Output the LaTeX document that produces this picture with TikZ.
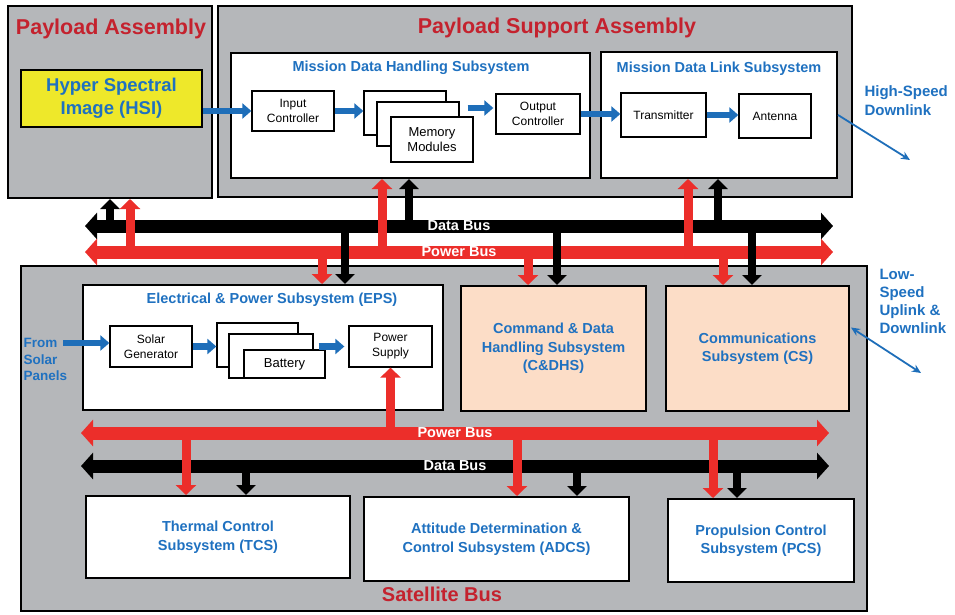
\documentclass[tikz,border=0pt]{standalone}
\usepackage{fontspec}
\setmainfont{Liberation Sans}
\usetikzlibrary{arrows.meta,calc}

\definecolor{grisboite}{RGB}{181,183,186}
\definecolor{rougetitre}{RGB}{196,34,46}
\definecolor{rougebus}{RGB}{236,46,42}
\definecolor{bleutexte}{RGB}{31,113,192}
\definecolor{bleuflux}{RGB}{30,110,185}
\definecolor{jaune}{RGB}{238,232,42}
\definecolor{peche}{RGB}{252,221,199}

\begin{document}
\begin{tikzpicture}[x=1pt, y=-1pt,
  cadre/.style={draw, line width=2pt, fill=grisboite},
  soussys/.style={draw, line width=2pt, fill=white},
  bloc/.style={draw, line width=1.3pt, fill=white, align=center, font=\fontsize{12}{15}\selectfont},
  titre/.style={text=rougetitre, font=\bfseries\fontsize{21.5}{24}\selectfont},
  soustitre/.style={text=bleutexte, font=\bfseries\fontsize{14.5}{17}\selectfont},
  nom/.style={text=bleutexte, align=center, font=\bfseries\fontsize{14.5}{18.5}\selectfont},
  legende/.style={text=bleutexte, align=left, anchor=west, font=\bfseries\fontsize{15}{19}\selectfont},
  powerbus/.style={draw=rougebus, line width=13pt, {Triangle[length=12pt,width=26pt]}-{Triangle[length=12pt,width=26pt]}},
  databus/.style={draw=black, line width=13pt, {Triangle[length=12pt,width=26pt]}-{Triangle[length=12pt,width=26pt]}},
  pfleche/.style={draw=rougebus, line width=9pt, -{Triangle[length=10pt,width=20pt]}},
  dfleche/.style={draw=black, line width=8pt, -{Triangle[length=10pt,width=19pt]}},
  flux/.style={draw=bleuflux, line width=6.5pt, -{Triangle[length=9pt,width=15pt]}},
  lien/.style={draw=bleuflux, line width=1.8pt, >={Stealth[length=9pt,width=8pt]}, ->},
  buslabel/.style={text=white, font=\bfseries\fontsize{14.5}{16}\selectfont}]
  \useasboundingbox (0,0) rectangle (955,614);

  % Charge utile
  \node[cadre, minimum width=204, minimum height=192] (pa) at (110,102) {};
  \node[titre] (patitre) at (111,29) {Payload Assembly};
  \node[draw, line width=1.5pt, fill=jaune, minimum width=181, minimum height=57, text=bleutexte,
        align=center, font=\bfseries\fontsize{18.5}{23}\selectfont] (hsi) at (111.5,98.5) {Hyper Spectral\\Image (HSI)};

  % Support de la charge utile
  \node[cadre, minimum width=634, minimum height=191] (psa) at (535,101.5) {};
  \node[titre] (psatitre) at (557,28) {Payload Support Assembly};
  \node[soussys, minimum width=359, minimum height=125] (mdhs) at (410.5,115.5) {};
  \node[soustitre] (mdhstitre) at (411,68) {Mission Data Handling Subsystem};
  \node[bloc, minimum width=82, minimum height=40] (ic) at (293,111) {Input\\Controller};
  \node[bloc, minimum width=82, minimum height=44] (mem1) at (405,113) {};
  \node[bloc, minimum width=82, minimum height=44] (mem2) at (418,124) {};
  \node[bloc, minimum width=82, minimum height=45, font=\fontsize{13}{15}\selectfont] (mem3) at (432,139.5) {Memory\\Modules};
  \node[bloc, minimum width=84, minimum height=40] (oc) at (538,114) {Output\\Controller};
  \node[soussys, minimum width=236, minimum height=126] (mdls) at (719,115) {};
  \node[soustitre] (mdlstitre) at (719,69) {Mission Data Link Subsystem};
  \node[bloc, minimum width=85, minimum height=44] (tx) at (663.5,115) {Transmitter};
  \node[bloc, minimum width=72, minimum height=44] (ant) at (775,116) {Antenna};

  % Plateforme
  \node[cadre, minimum width=846, minimum height=345] (sb) at (444,438.5) {};
  \node[titre, font=\bfseries\fontsize{20}{24}\selectfont] (sbtitre) at (442,594) {Satellite Bus};
  \node[soussys, minimum width=360, minimum height=125] (eps) at (263,347.5) {};
  \node[soustitre] (epstitre) at (272,300) {Electrical \& Power Subsystem (EPS)};
  \node[bloc, minimum width=82, minimum height=41] (sg) at (151,346.5) {Solar\\Generator};
  \node[bloc, minimum width=81, minimum height=44] (bat1) at (257.5,345) {};
  \node[bloc, minimum width=84, minimum height=44] (bat2) at (271,356) {};
  \node[bloc, minimum width=81, minimum height=28, font=\fontsize{13}{15}\selectfont] (bat3) at (284.5,364) {Battery};
  \node[bloc, minimum width=83, minimum height=41] (ps) at (390.5,346.5) {Power\\Supply};
  \node[soussys, nom, fill=peche, minimum width=185, minimum height=125] (cdhs) at (553.5,348.5) {Command \& Data\\Handling Subsystem\\(C\&DHS)};
  \node[soussys, nom, fill=peche, minimum width=183, minimum height=125] (cs) at (757.5,348.5) {Communications\\Subsystem (CS)};
  \node[soussys, nom, minimum width=264, minimum height=82] (tcs) at (218,537) {Thermal Control\\Subsystem (TCS)};
  \node[soussys, nom, minimum width=265, minimum height=84] (adcs) at (496.5,539) {Attitude Determination \&\\Control Subsystem (ADCS)};
  \node[soussys, nom, minimum width=186, minimum height=83] (pcs) at (761,540.5) {Propulsion Control\\Subsystem (PCS)};

  % Textes exterieurs
  \node[legende] (hs) at (861,100.5) {High-Speed\\Downlink};
  \node[legende, font=\bfseries\fontsize{15}{18}\selectfont] (ls) at (876,301) {Low-\\Speed\\Uplink \&\\Downlink};
  \node[legende, font=\bfseries\fontsize{13.5}{16.5}\selectfont] (sp) at (20,359.5) {From\\Solar\\Panels};

  % Bus
  \coordinate (dbA) at (85,226);  \coordinate (dbB) at (833,226);
  \coordinate (pbA) at (85,252);  \coordinate (pbB) at (833,252);
  \coordinate (pb2A) at (81,433); \coordinate (pb2B) at (829,433);
  \coordinate (db2A) at (81,466); \coordinate (db2B) at (829,466);
  \draw[databus] (dbA) -- (dbB);
  \draw[powerbus] (pbA) -- (pbB);
  \draw[powerbus] (pb2A) -- (pb2B);
  \draw[databus] (db2A) -- (db2B);

  % Liaisons vers les bus
  \foreach \x/\cible in {110/pa, 409/mdhs, 718/mdls}
    \draw[dfleche] (\x,0 |- dbA) -- (\x,0 |- \cible.south);
  \foreach \x/\cible in {130/pa, 382/mdhs, 688/mdls}
    \draw[pfleche] (\x,0 |- pbA) -- (\x,0 |- \cible.south);
  \foreach \x/\cible in {322/eps, 528/cdhs, 723/cs}
    \draw[pfleche] (\x,0 |- pbA) -- (\x,0 |- \cible.north);
  \foreach \x/\cible in {345/eps, 557/cdhs, 752/cs}
    \draw[dfleche] (\x,0 |- dbA) -- (\x,0 |- \cible.north);
  \draw[pfleche] (ps.south |- pb2A) -- (ps.south);
  \foreach \x/\cible in {186/tcs, 517/adcs, 713/pcs}
    \draw[pfleche] (\x,0 |- pb2A) -- (\x,0 |- \cible.north);
  \foreach \x/\cible in {246/tcs, 577/adcs, 737/pcs}
    \draw[dfleche] (\x,0 |- db2A) -- (\x,0 |- \cible.north);

  \node[buslabel] (dbtxt) at (459,226) {Data Bus};
  \node[buslabel] (pbtxt) at (459,252) {Power Bus};
  \node[buslabel] (pb2txt) at (455,433) {Power Bus};
  \node[buslabel] (db2txt) at (455,466) {Data Bus};

  % Flux de donnees
  \draw[flux] (hsi.east |- ic.west) -- (ic.west);
  \draw[flux] (ic.east) -- (ic.east -| mem1.west);
  \draw[flux] ($(mem2.east |- oc.west)+(8,-6)$) -- ($(oc.west)+(-2,-6)$);
  \draw[flux] (oc.east) -- (oc.east -| tx.west);
  \draw[flux] (tx.east) -- (tx.east -| ant.west);
  \coordinate (soleil) at (63,343);
  \draw[flux] (soleil) -- (soleil -| sg.west);
  \draw[flux] (sg.east) -- (sg.east -| bat1.west);
  \draw[flux] ($(bat2.east |- ps.west)+(5,0)$) -- ($(ps.west)+(-4,0)$);

  % Liaisons sol
  \coordinate (hsfin) at (910,160);
  \draw[lien] (mdls.east) -- (hsfin);
  \coordinate (lsfin) at (921,373);
  \draw[lien, <->] ($(cs.east)+(1,-21)$) -- (lsfin);
\end{tikzpicture}
\end{document}
